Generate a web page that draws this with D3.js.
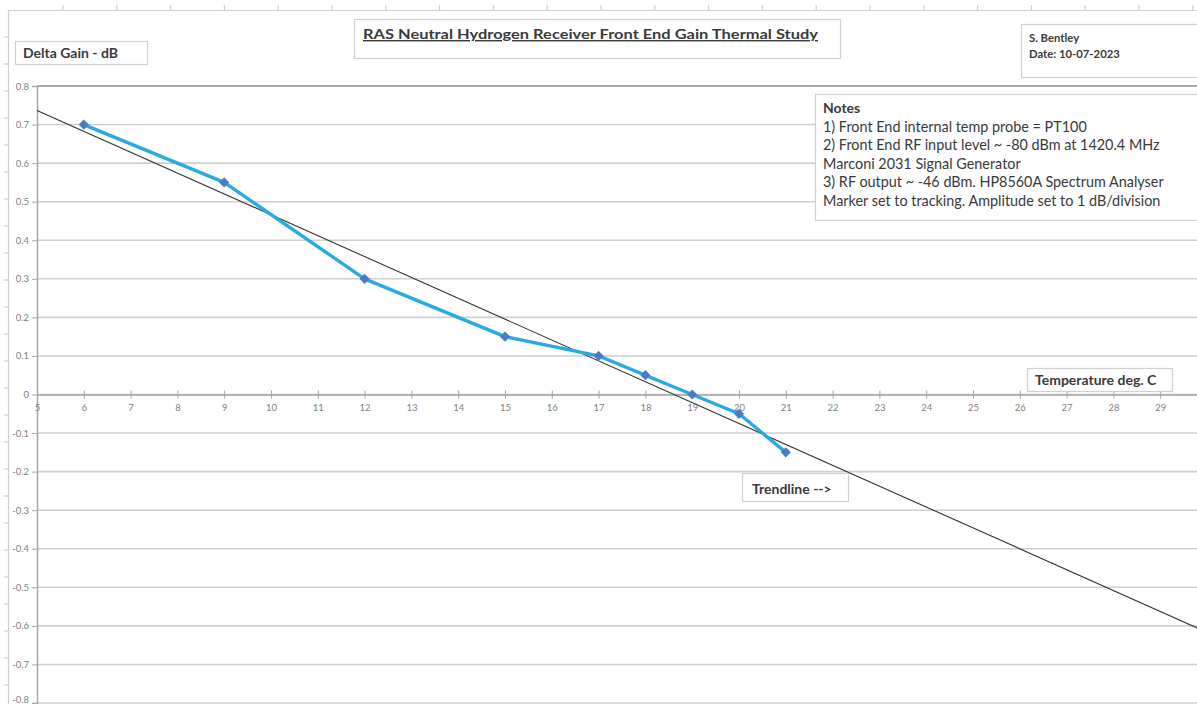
<!DOCTYPE html>
<html>
<head>
<meta charset="utf-8">
<script src="https://cdn.jsdelivr.net/npm/d3@7"></script>
<style>
  html, body { margin: 0; padding: 0; background: #ffffff; }
  svg { display: block; font-family: Lato, "Open Sans", sans-serif; }
</style>
</head>
<body>
<svg id="chart" width="1197" height="704"></svg>
<script>
// ---------------- data ----------------
const temperatures = [6, 9, 12, 15, 17, 18, 19, 20, 21];
const deltaGain = [0.70, 0.55, 0.30, 0.15, 0.10, 0.05, 0.00, -0.05, -0.15];
const xTickLabels = [5, 6, 7, 8, 9, 10, 11, 12, 13, 14, 15, 16, 17, 18, 19, 20, 21, 22, 23, 24, 25, 26, 27, 28, 29];
const yTickLabels = [0.8, 0.7, 0.6, 0.5, 0.4, 0.3, 0.2, 0.1, 0, -0.1, -0.2, -0.3, -0.4, -0.5, -0.6, -0.7, -0.8];
const chartTitle = "RAS Neutral Hydrogen Receiver Front End Gain Thermal Study";
const yTitle = "Delta Gain - dB";
const xTitle = "Temperature deg. C";
const trendLabel = "Trendline -->";
const authorLines = ["S. Bentley", "Date: 10-07-2023"];
const notesTitle = "Notes";
const notesLines = [
  "1) Front End internal temp probe = PT100",
  "2) Front End RF input level ~ -80 dBm at 1420.4 MHz",
  "Marconi 2031 Signal Generator",
  "3) RF output ~ -46 dBm. HP8560A Spectrum Analyser",
  "Marker set to tracking. Amplitude set to 1 dB/division"
];

// ---------------- layout ----------------
const W = 1197, H = 704;
const svg = d3.select("#chart");

const x = d3.scaleLinear().domain([5, 30]).range([37, 37 + 25 * 46.8]);
const y = d3.scaleLinear().domain([-0.8, 0.8]).range([703, 86]);

// least-squares trendline from the data
const n = temperatures.length;
const mx = d3.mean(temperatures), my = d3.mean(deltaGain);
let sxy = 0, sxx = 0;
for (let i = 0; i < n; i++) {
  sxy += (temperatures[i] - mx) * (deltaGain[i] - my);
  sxx += (temperatures[i] - mx) ** 2;
}
const slope = sxy / sxx, intercept = my - slope * mx;

// outer frame "rulers"
const frame = svg.append("g").attr("stroke", "#cfcfcf").attr("stroke-width", 1.2);
frame.append("line").attr("x1", 8).attr("x2", W).attr("y1", 10.5).attr("y2", 10.5);
frame.append("line").attr("x1", 8.5).attr("x2", 8.5).attr("y1", 10).attr("y2", H);
d3.range(63, W, 53.8).forEach(px => {
  frame.append("line").attr("x1", px).attr("x2", px).attr("y1", 5).attr("y2", 10);
});
d3.range(37, H, 27).forEach(py => {
  frame.append("line").attr("x1", 4).attr("x2", 8).attr("y1", py).attr("y2", py);
});

svg.append("clipPath").attr("id", "plotclip")
  .append("rect").attr("x", 0).attr("y", 0).attr("width", W).attr("height", H);

// gridlines
const grid = svg.append("g");
grid.selectAll("line").data(yTickLabels).join("line")
  .attr("x1", x(5)).attr("x2", W)
  .attr("y1", d => y(d)).attr("y2", d => y(d))
  .attr("stroke", d => d === 0.8 ? "#ababab" : "#cfcfcf")
  .attr("stroke-width", d => d === 0.8 ? 2 : 1.6);

// y axis
const yAxis = d3.axisLeft(y).tickValues(yTickLabels).tickSize(5).tickPadding(3)
  .tickFormat(d => d === 0 ? "0" : d3.format(".1f")(d).replace("−", "-"));
const gy = svg.append("g").attr("transform", `translate(${x(5)},0)`).call(yAxis);
gy.select(".domain").attr("stroke", "#a6a6a6").attr("stroke-width", 1.5);
gy.selectAll(".tick line").attr("stroke", "#a6a6a6");
gy.selectAll(".tick text").attr("fill", "#7f7f7f").style("font-size", "9.5px")
  .style("font-family", "Lato, sans-serif")
  .attr("dy", d => d === -0.8 ? "-0.05em" : "0.32em");

// x axis at y = 0
const xAxis = d3.axisBottom(x).tickValues(xTickLabels).tickSize(0).tickPadding(10)
  .tickFormat(d3.format("d"));
const gx = svg.append("g").attr("transform", `translate(0,${y(0)})`).call(xAxis);
gx.select(".domain").attr("stroke", "#a6a6a6").attr("stroke-width", 1.5);
gx.selectAll(".tick").append("line").attr("y1", -4).attr("y2", 4).attr("stroke", "#a6a6a6");
gx.selectAll(".tick text").attr("fill", "#7f7f7f").style("font-size", "9.5px")
  .style("font-family", "Lato, sans-serif");

// trendline
svg.append("line")
  .attr("x1", x(5)).attr("y1", y(intercept + slope * 5))
  .attr("x2", x(30)).attr("y2", y(intercept + slope * 30))
  .attr("stroke", "#333333").attr("stroke-width", 1.1)
  .attr("clip-path", "url(#plotclip)");

// data line
const line = d3.line().x((d, i) => x(temperatures[i])).y(d => y(d));
svg.append("path").datum(deltaGain)
  .attr("d", line).attr("fill", "none")
  .attr("stroke", "#2aaae0").attr("stroke-width", 3.4)
  .attr("stroke-linejoin", "round");

// markers (Excel-style square diamonds)
svg.append("g").selectAll("path").data(deltaGain).join("path")
  .attr("d", d3.symbol().type(d3.symbolSquare).size(52))
  .attr("transform", (d, i) => `translate(${x(temperatures[i])},${y(d)}) rotate(45)`)
  .attr("fill", "#4a7cc4");

// text boxes
function box(x0, y0, w, h) {
  svg.append("rect").attr("x", x0 + 0.5).attr("y", y0 + 0.5).attr("width", w).attr("height", h)
    .attr("fill", "#ffffff").attr("stroke", "#d0d0d0").attr("stroke-width", 1.2);
}

box(15, 41, 132, 23);
svg.append("text").attr("x", 23).attr("y", 58).text(yTitle)
  .attr("fill", "#3a3a3a").style("font-weight", "bold").style("font-size", "14px");

box(354, 19, 486, 39);
svg.append("text").attr("x", 363).attr("y", 39).text(chartTitle)
  .attr("textLength", 455).attr("lengthAdjust", "spacingAndGlyphs")
  .attr("fill", "#3a3a3a").style("font-weight", "bold").style("font-size", "14px")
  .style("text-decoration", "underline");

box(1021, 24, 190, 53);
svg.append("g").selectAll("text").data(authorLines).join("text")
  .attr("x", 1029).attr("y", (d, i) => 42 + i * 16).text(d => d)
  .attr("fill", "#3a3a3a").style("font-weight", "bold").style("font-size", "11.3px");

box(815, 94, 400, 126);
svg.append("text").attr("x", 823).attr("y", 113).text(notesTitle)
  .attr("fill", "#3a3a3a").style("font-weight", "bold").style("font-size", "14px");
svg.append("g").selectAll("text").data(notesLines).join("text")
  .attr("x", 823).attr("y", (d, i) => 131.5 + i * 18.6).text(d => d)
  .attr("fill", "#3a3a3a").style("font-size", "14.4px");

box(1027, 368, 145, 23);
svg.append("text").attr("x", 1035).attr("y", 385).text(xTitle)
  .attr("fill", "#3a3a3a").style("font-weight", "bold").style("font-size", "14px");

box(742, 473, 106, 28);
svg.append("text").attr("x", 752).attr("y", 494).text(trendLabel)
  .attr("fill", "#3a3a3a").style("font-weight", "bold").style("font-size", "14px");
</script>
</body>
</html>
